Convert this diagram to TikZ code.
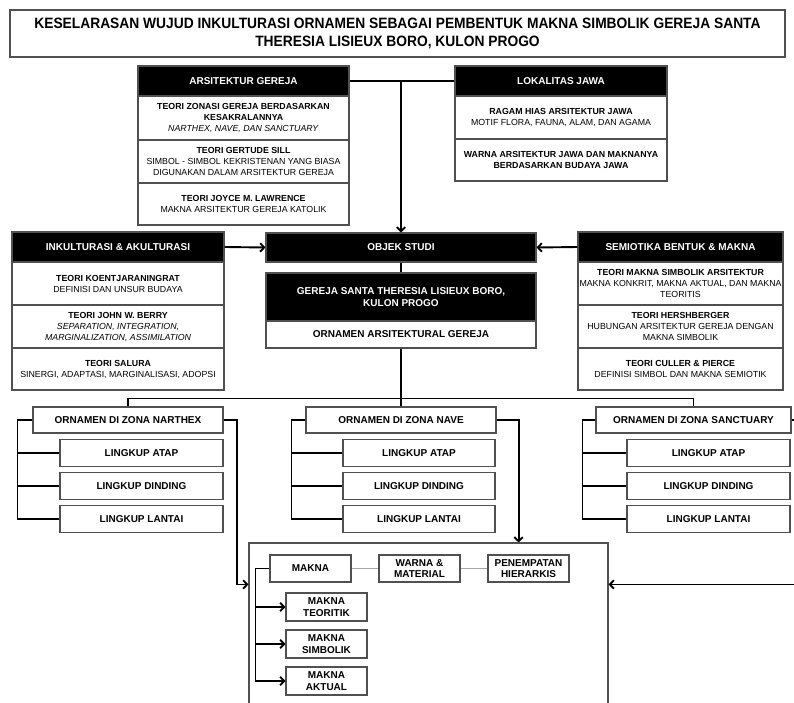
\documentclass[tikz,border=0pt]{standalone}
\usepackage{fontspec}
\setmainfont{Liberation Sans}
\newfontfamily\titlefont[FakeStretch=0.92]{Liberation Sans}
\usetikzlibrary{arrows.meta}
\definecolor{boxgray}{RGB}{80,80,80}
\definecolor{linkgray}{RGB}{165,165,165}

\begin{document}
\begin{tikzpicture}[x=1pt, y=-1pt,
    boxline/.style={draw=boxgray, line width=1.1pt},
    titlebox/.style={boxline, fill=white, align=center, inner sep=0pt,
      font=\titlefont\bfseries\fontsize{15}{18}\selectfont},
    headbox/.style={boxline, fill=black, text=white, align=center, inner sep=0pt,
      minimum height=30pt, font=\bfseries\fontsize{10}{12}\selectfont},
    theorybox/.style={boxline, fill=white, align=center, inner sep=0pt,
      font=\fontsize{8.8}{11}\selectfont},
    zonebox/.style={boxline, fill=white, align=center, inner sep=0pt,
      minimum height=26pt, font=\bfseries\fontsize{10}{12}\selectfont},
    maknabox/.style={boxline, fill=white, align=center, inner sep=0pt,
      minimum width=81pt, minimum height=27pt, font=\bfseries\fontsize{10}{11.5}\selectfont},
    conn/.style={line width=1.9pt},
    arr/.style={-{Straight Barb[length=4pt,width=8.5pt]}}]

  % Define the frame
  \clip (0,0) rectangle (794,703);
  \fill[white] (0,0) rectangle (794,703);

  % Title
  \node[titlebox, minimum width=775pt, minimum height=47pt] (judul) at (397.5,33.5)
    {KESELARASAN WUJUD INKULTURASI ORNAMEN SEBAGAI PEMBENTUK MAKNA SIMBOLIK GEREJA SANTA\\THERESIA LISIEUX BORO, KULON PROGO};

  % Arsitektur gereja
  \node[headbox, minimum width=211pt] (arsHead) at (243.5,81) {ARSITEKTUR GEREJA};
  \node[theorybox, minimum width=211pt, minimum height=44pt] (arsA) at (243.5,118)
    {{\bfseries TEORI ZONASI GEREJA BERDASARKAN}\\{\bfseries KESAKRALANNYA}\\\textit{NARTHEX, NAVE, DAN SANCTUARY}};
  \node[theorybox, minimum width=211pt, minimum height=43pt] (arsB) at (243.5,161.5)
    {{\bfseries TEORI GERTUDE SILL}\\SIMBOL - SIMBOL KEKRISTENAN YANG BIASA\\DIGUNAKAN DALAM ARSITEKTUR GEREJA};
  \node[theorybox, minimum width=211pt, minimum height=42pt] (arsC) at (243.5,204)
    {{\bfseries TEORI JOYCE M. LAWRENCE}\\MAKNA ARSITEKTUR GEREJA KATOLIK};

  % Lokalitas jawa
  \node[headbox, minimum width=212pt] (lokHead) at (561,81) {LOKALITAS JAWA};
  \node[theorybox, minimum width=212pt, minimum height=43pt] (lokA) at (561,117.5)
    {{\bfseries RAGAM HIAS ARSITEKTUR JAWA}\\MOTIF FLORA, FAUNA, ALAM, DAN AGAMA};
  \node[theorybox, minimum width=212pt, minimum height=42pt] (lokB) at (561,160)
    {{\bfseries WARNA ARSITEKTUR JAWA DAN MAKNANYA}\\{\bfseries BERDASARKAN BUDAYA JAWA}};

  % Inkulturasi
  \node[headbox, minimum width=212pt] (inkHead) at (118,247) {INKULTURASI \& AKULTURASI};
  \node[theorybox, minimum width=212pt, minimum height=43pt] (inkA) at (118,283.5)
    {{\bfseries TEORI KOENTJARANINGRAT}\\DEFINISI DAN UNSUR BUDAYA};
  \node[theorybox, minimum width=212pt, minimum height=43pt] (inkB) at (118,326.5)
    {{\bfseries TEORI JOHN W. BERRY}\\\textit{SEPARATION, INTEGRATION,}\\\textit{MARGINALIZATION, ASSIMILATION}};
  \node[theorybox, minimum width=212pt, minimum height=42pt] (inkC) at (118,369)
    {{\bfseries TEORI SALURA}\\SINERGI, ADAPTASI, MARGINALISASI, ADOPSI};

  % Semiotika
  \node[headbox, minimum width=205pt] (semHead) at (680.5,247) {SEMIOTIKA BENTUK \& MAKNA};
  \node[theorybox, minimum width=205pt, minimum height=43pt] (semA) at (680.5,283.5)
    {{\bfseries TEORI MAKNA SIMBOLIK ARSITEKTUR}\\MAKNA KONKRIT, MAKNA AKTUAL, DAN MAKNA\\TEORITIS};
  \node[theorybox, minimum width=205pt, minimum height=43pt] (semB) at (680.5,326.5)
    {{\bfseries TEORI HERSHBERGER}\\HUBUNGAN ARSITEKTUR GEREJA DENGAN\\MAKNA SIMBOLIK};
  \node[theorybox, minimum width=205pt, minimum height=42pt] (semC) at (680.5,369)
    {{\bfseries TEORI CULLER \& PIERCE}\\DEFINISI SIMBOL DAN MAKNA SEMIOTIK};

  % Objek studi
  \node[headbox, minimum width=270pt, minimum height=29pt] (objek) at (401,247.5) {OBJEK STUDI};
  \node[headbox, minimum width=270pt, minimum height=48pt] (gereja) at (401,297)
    {GEREJA SANTA THERESIA LISIEUX BORO,\\KULON PROGO};
  \node[zonebox, minimum width=270pt, minimum height=27pt] (ornamen) at (401,334.5)
    {ORNAMEN ARSITEKTURAL GEREJA};

  % Links to objek studi
  \draw[conn, arr] (arsHead.east) -| (objek.north);
  \draw[conn] (lokHead.west) -- (arsHead.east -| objek.north);
  \draw[conn, arr] (inkHead.east) -- (objek.west);
  \draw[conn, arr] (semHead.west) -- (objek.east);
  \draw[conn] (objek.south) -- (gereja.north);

  % Zona narthex
  \node[zonebox, minimum width=190pt] (znar) at (128,420) {ORNAMEN DI ZONA NARTHEX};
  \node[zonebox, minimum width=163pt, minimum height=27pt] (nAta) at (141.5,453) {LINGKUP ATAP};
  \node[zonebox, minimum width=163pt, minimum height=27pt] (nDin) at (141.5,486) {LINGKUP DINDING};
  \node[zonebox, minimum width=163pt, minimum height=27pt] (nLan) at (141.5,519) {LINGKUP LANTAI};

  % Zona nave
  \node[zonebox, minimum width=190pt] (znav) at (401,420) {ORNAMEN DI ZONA NAVE};
  \node[zonebox, minimum width=152pt, minimum height=27pt] (vAta) at (419,453) {LINGKUP ATAP};
  \node[zonebox, minimum width=152pt, minimum height=27pt] (vDin) at (419,486) {LINGKUP DINDING};
  \node[zonebox, minimum width=152pt, minimum height=27pt] (vLan) at (419,519) {LINGKUP LANTAI};

  % Zona sanctuary
  \node[zonebox, minimum width=195pt] (zsan) at (693.5,420) {ORNAMEN DI ZONA SANCTUARY};
  \node[zonebox, minimum width=163pt, minimum height=27pt] (sAta) at (708.5,453) {LINGKUP ATAP};
  \node[zonebox, minimum width=163pt, minimum height=27pt] (sDin) at (708.5,486) {LINGKUP DINDING};
  \node[zonebox, minimum width=163pt, minimum height=27pt] (sLan) at (708.5,519) {LINGKUP LANTAI};

  % Split to the zones
  \draw[conn] (ornamen.south) -- (znav.north);
  \draw[conn] (znar.north) -- ++(0,-8) -| (zsan.north);

  % Brackets of the zones
  \draw[conn] (znar.west) -- ++(-15,0) coordinate (kn) |- (nLan.west);
  \draw[conn] (kn |- nAta.west) -- (nAta.west);
  \draw[conn] (kn |- nDin.west) -- (nDin.west);
  \draw[conn] (znav.west) -- ++(-14,0) coordinate (kv) |- (vLan.west);
  \draw[conn] (kv |- vAta.west) -- (vAta.west);
  \draw[conn] (kv |- vDin.west) -- (vDin.west);
  \draw[conn] (zsan.west) -- ++(-13,0) coordinate (ks) |- (sLan.west);
  \draw[conn] (ks |- sAta.west) -- (sAta.west);
  \draw[conn] (ks |- sDin.west) -- (sDin.west);

  % Analisis box
  \node[boxline, fill=white, minimum width=359pt, minimum height=200pt, inner sep=0pt] (analisis) at (428.5,643) {};
  \draw[conn, arr] (znar.east) -- ++(13,0) |- ([yshift=-42pt]analisis.north west);
  \draw[conn, arr] (znav.east) -- ++(22,0) coordinate (kt) -- (kt |- analisis.north);
  \draw[conn, arr] (zsan.east) -- ++(15,0) |- ([yshift=-42pt]analisis.north east);

  % Makna
  \node[maknabox] (makna) at (310.5,568.5) {MAKNA};
  \node[maknabox] (warna) at (419.5,568.5) {WARNA \&\\MATERIAL};
  \node[maknabox] (penem) at (528.5,568.5) {PENEMPATAN\\HIERARKIS};
  \draw[linkgray, line width=1.5pt] (makna) -- (warna) -- (penem);

  \node[maknabox, minimum height=28pt] (mTeo) at (326.5,607) {MAKNA\\TEORITIK};
  \node[maknabox, minimum height=28pt] (mSim) at (326.5,644) {MAKNA\\SIMBOLIK};
  \node[maknabox, minimum height=28pt] (mAkt) at (326.5,681) {MAKNA\\AKTUAL};
  \draw[conn] (makna.west) -- ++(-14,0) coordinate (km) |- (mAkt.west);
  \draw[conn, arr] (km |- mTeo.west) -- (mTeo.west);
  \draw[conn, arr] (km |- mSim.west) -- (mSim.west);
  \draw[conn, arr] (km |- mAkt.west) -- (mAkt.west);

\end{tikzpicture}
\end{document}
